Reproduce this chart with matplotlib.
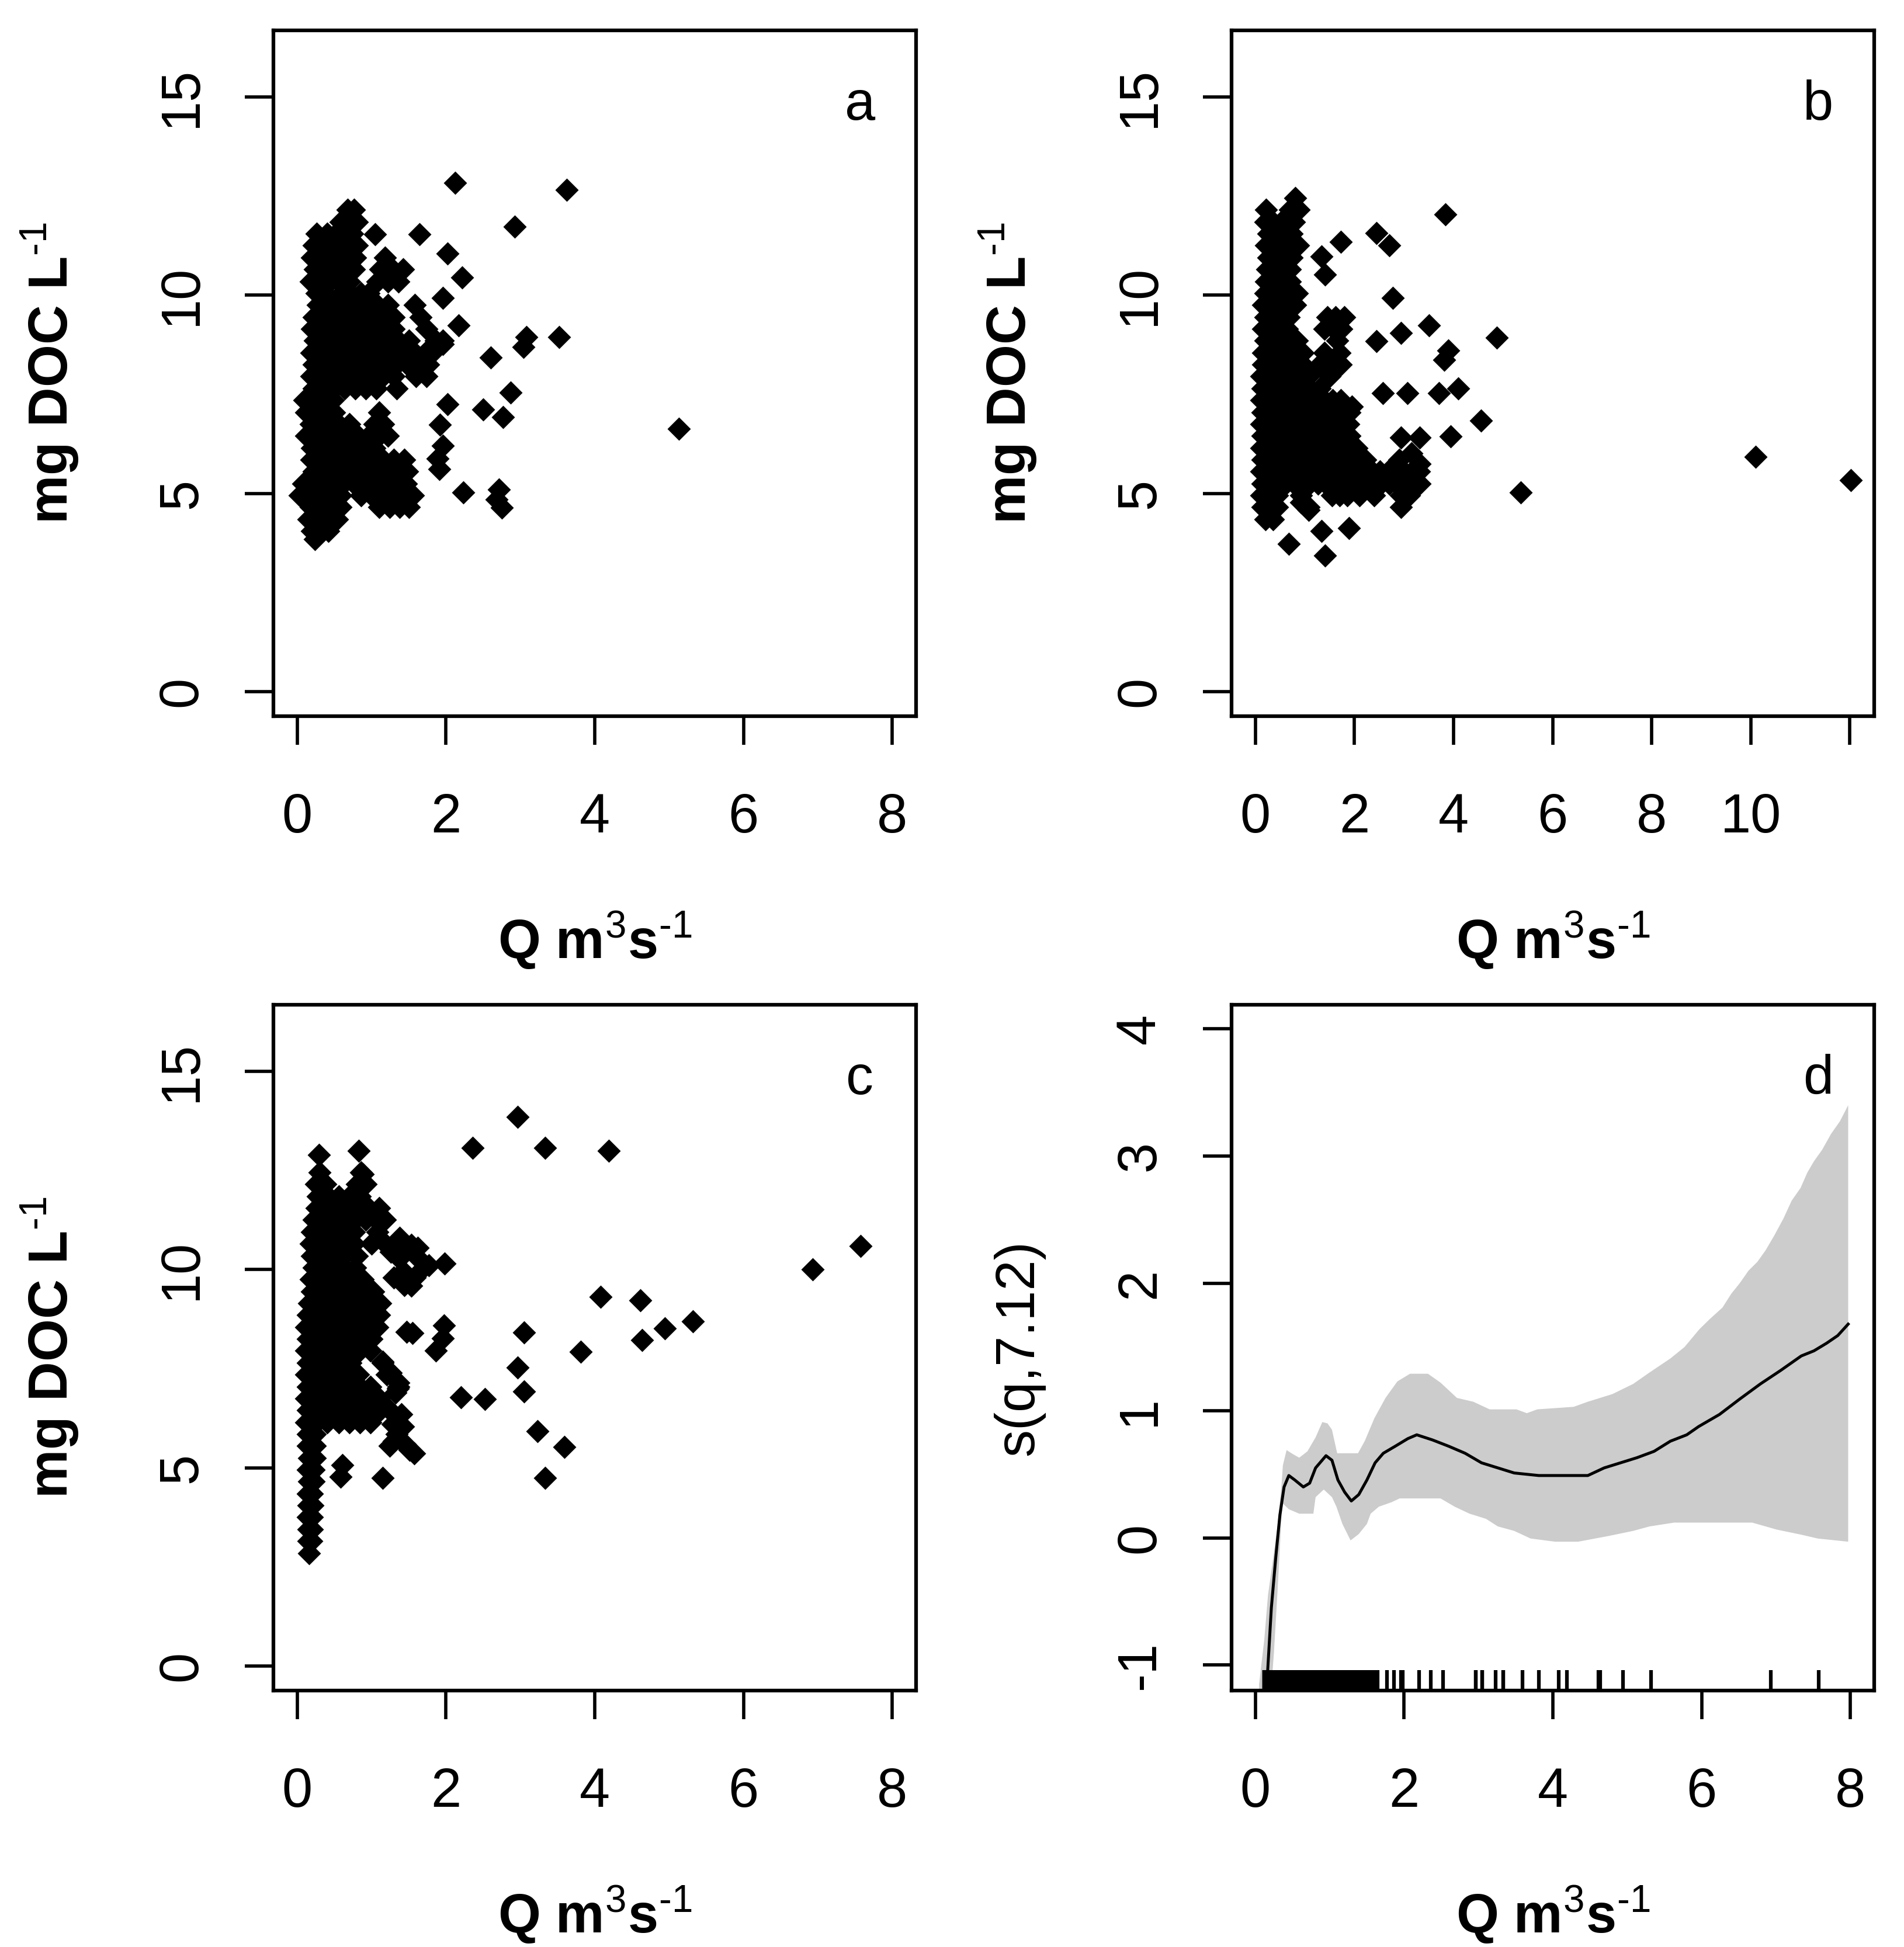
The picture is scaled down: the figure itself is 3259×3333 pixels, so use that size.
import numpy as np
import matplotlib
matplotlib.use("Agg")
import matplotlib.pyplot as plt

plt.rcParams['font.family'] = ['Liberation Sans', 'DejaVu Sans']
plt.rcParams['mathtext.fontset'] = 'custom'
plt.rcParams['mathtext.rm'] = 'Liberation Sans'
plt.rcParams['mathtext.it'] = 'Liberation Sans:italic'
plt.rcParams['mathtext.bf'] = 'Liberation Sans:bold'

# ---------------- data ----------------
# panel a: rows of (DOC, [Q values]) in the dense cloud, plus isolated points
a_rows = [
    (12.15, [0.68, 0.76]),
    (11.85, [0.58, 0.70, 0.80]),
    (11.55, [0.26, 0.40, 0.52, 0.64, 0.74]),
    (11.25, [0.22, 0.34, 0.48, 0.60, 0.72, 0.80]),
    (10.95, [0.20, 0.32, 0.45, 0.58, 0.70, 0.78, 1.18]),
    (10.65, [0.24, 0.38, 0.50, 0.62, 0.76, 1.12, 1.28, 1.42]),
    (10.35, [0.18, 0.30, 0.44, 0.56, 0.70, 1.08, 1.22, 1.36]),
    (10.05, [0.26, 0.38, 0.60, 0.72, 0.86, 0.96]),
    (9.75, [0.28, 0.40, 0.52, 0.66, 0.80, 0.94, 1.08, 1.22, 1.58]),
    (9.45, [0.22, 0.34, 0.48, 0.62, 0.76, 0.90, 1.04, 1.18, 1.30, 1.66]),
    (9.15, [0.20, 0.32, 0.46, 0.60, 0.74, 0.88, 1.02, 1.16, 1.30, 1.74]),
    (8.85, [0.24, 0.38, 0.52, 0.66, 0.80, 0.94, 1.08, 1.22, 1.36, 1.50, 1.86, 1.96]),
    (8.55, [0.19, 0.32, 0.46, 0.60, 0.74, 0.88, 1.02, 1.16, 1.30, 1.44, 1.58, 1.72, 1.82]),
    (8.25, [0.22, 0.36, 0.50, 0.64, 0.78, 0.92, 1.06, 1.20, 1.34, 1.48, 1.62, 1.76]),
    (7.95, [0.19, 0.32, 0.46, 0.60, 0.74, 0.88, 1.02, 1.16, 1.30, 1.60, 1.74]),
    (7.65, [0.22, 0.36, 0.50, 0.64, 0.78, 0.92, 1.06, 1.34]),
    (7.35, [0.10, 0.22, 0.36, 0.48]),
    (7.05, [0.12, 0.26, 0.40, 0.50, 1.10]),
    (6.75, [0.18, 0.30, 0.44, 0.56, 0.70, 1.04, 1.16]),
    (6.45, [0.12, 0.26, 0.40, 0.54, 0.68, 0.82, 0.96, 1.10, 1.22]),
    (6.15, [0.20, 0.34, 0.48, 0.62, 0.76, 0.90, 1.04]),
    (5.85, [0.19, 0.32, 0.46, 0.60, 0.74, 0.88, 1.02, 1.16, 1.30, 1.44]),
    (5.55, [0.22, 0.36, 0.50, 0.64, 0.78, 0.92, 1.06, 1.20, 1.34, 1.48]),
    (5.25, [0.08, 0.20, 0.34, 0.48, 0.62, 0.76, 0.90, 1.04, 1.18, 1.32, 1.46]),
    (4.95, [0.03, 0.16, 0.30, 0.44, 0.58, 0.86, 1.00, 1.14, 1.28, 1.42, 1.56]),
    (4.65, [0.18, 0.30, 0.44, 0.58, 1.10, 1.24, 1.38, 1.50]),
    (4.35, [0.15, 0.28, 0.42, 0.54]),
    (4.05, [0.20, 0.32, 0.42]),
    (3.85, [0.24]),
]
a_iso = [(2.12, 12.84), (3.62, 12.65), (2.92, 11.73), (1.05, 11.54), (1.64, 11.54),
         (2.02, 11.05), (2.22, 10.44), (1.96, 9.93), (2.17, 9.24), (1.96, 8.76),
         (3.08, 8.95), (3.04, 8.69), (3.52, 8.94), (2.60, 8.43), (2.87, 7.54),
         (2.02, 7.25), (1.92, 6.73), (2.50, 7.12), (2.77, 6.93), (5.13, 6.63),
         (1.96, 6.21), (1.89, 5.88), (1.91, 5.62), (2.23, 5.03), (2.71, 5.10),
         (2.75, 4.64), (2.68, 4.84)]

# panel b
b_rows = [
    (12.45, [0.80]),
    (12.15, [0.22, 0.70, 0.88]),
    (11.85, [0.20, 0.36, 0.52, 0.78]),
    (11.55, [0.26, 0.42, 0.58, 0.74]),
    (11.25, [0.22, 0.38, 0.54, 0.70, 0.86]),
    (10.95, [0.26, 0.42, 0.58, 0.74]),
    (10.65, [0.24, 0.40, 0.56, 0.70]),
    (10.35, [0.22, 0.38, 0.54, 0.70]),
    (10.05, [0.20, 0.36, 0.52, 0.68, 0.84]),
    (9.75, [0.16, 0.32, 0.48, 0.64, 0.80]),
    (9.45, [0.20, 0.36, 0.52, 0.68, 1.45, 1.62, 1.80]),
    (9.15, [0.16, 0.32, 0.48, 0.64, 1.40, 1.58, 1.74]),
    (8.85, [0.20, 0.36, 0.52, 0.68, 0.84, 1.66]),
    (8.55, [0.16, 0.32, 0.48, 0.64, 0.80, 0.96, 1.40, 1.70]),
    (8.25, [0.16, 0.32, 0.48, 0.64, 0.80, 0.96, 1.30, 1.56, 1.72]),
    (7.95, [0.12, 0.28, 0.44, 0.60, 0.76, 0.92, 1.08, 1.50]),
    (7.65, [0.14, 0.30, 0.46, 0.62, 0.78, 0.94, 1.10, 1.30]),
    (7.35, [0.12, 0.28, 0.44, 0.60, 0.76, 0.92, 1.08, 1.24, 1.40, 1.56, 1.72]),
    (7.05, [0.14, 0.30, 0.46, 0.62, 0.78, 0.94, 1.10, 1.26, 1.42, 1.58, 1.74, 1.90]),
    (6.75, [0.12, 0.28, 0.44, 0.60, 0.76, 0.92, 1.08, 1.24, 1.40, 1.56, 1.72, 1.88]),
    (6.45, [0.14, 0.30, 0.46, 0.62, 0.78, 0.94, 1.10, 1.26, 1.42, 1.58, 1.74, 1.90]),
    (6.15, [0.12, 0.28, 0.44, 0.60, 0.76, 0.92, 1.08, 1.24, 1.40, 1.56, 1.72, 1.88, 2.04]),
    (5.85, [0.14, 0.30, 0.46, 0.62, 0.78, 0.94, 1.10, 1.26, 1.42, 1.58, 1.74, 1.90,
            2.06, 2.22, 2.90]),
    (5.55, [0.12, 0.28, 0.44, 0.60, 0.76, 0.92, 1.08, 1.24, 1.40, 1.56, 1.72, 1.88,
            2.04, 2.20, 2.36, 2.52, 2.68, 2.84, 3.00, 3.16, 3.30]),
    (5.25, [0.14, 0.30, 0.46, 0.62, 0.78, 0.94, 1.10, 1.26, 1.42, 1.58, 1.74, 1.90,
            2.06, 2.22, 2.38, 2.54, 2.70, 2.86, 3.02, 3.18, 3.32]),
    (4.95, [0.12, 0.28, 0.44, 0.92, 1.55, 1.70, 1.86, 2.10, 2.40, 2.94, 3.10]),
    (4.65, [0.14, 0.30, 0.44, 1.08, 2.94]),
    (4.35, [0.20, 0.36]),
]
b_iso = [(3.83, 12.04), (2.45, 11.57), (2.70, 11.25), (1.73, 11.34), (1.33, 10.98),
         (1.41, 10.52), (2.78, 9.93), (3.51, 9.24), (2.94, 9.04), (2.45, 8.84),
         (4.87, 8.93), (3.90, 8.60), (3.81, 8.37), (2.57, 7.53), (3.07, 7.53),
         (3.71, 7.53), (4.10, 7.65), (1.95, 7.19), (4.56, 6.83), (3.94, 6.44),
         (2.94, 6.41), (3.32, 6.41), (3.15, 6.01), (3.32, 5.75), (10.10, 5.93),
         (12.02, 5.33), (5.36, 5.03), (1.33, 4.05), (1.89, 4.12), (0.67, 3.73),
         (1.41, 3.43), (0.92, 4.77), (1.08, 4.58)]

# panel c
c_rows = [
    (12.45, [0.30, 0.86]),
    (12.15, [0.25, 0.38, 0.80, 0.92]),
    (11.85, [0.28, 0.42, 0.56, 0.70, 0.84]),
    (11.55, [0.26, 0.40, 0.54, 0.68, 0.82, 0.96, 1.10]),
    (11.25, [0.22, 0.36, 0.50, 0.64, 0.78, 0.92, 1.06, 1.18]),
    (10.95, [0.20, 0.34, 0.48, 0.62, 0.76, 1.08]),
    (10.65, [0.18, 0.32, 0.46, 0.60, 0.76, 1.00, 1.18]),
    (10.35, [0.20, 0.34, 0.48, 0.62, 0.80]),
    (10.05, [0.22, 0.36, 0.50, 0.64, 0.78]),
    (9.75, [0.18, 0.32, 0.46, 0.60, 0.74, 0.88]),
    (9.45, [0.20, 0.34, 0.48, 0.62, 0.76, 0.90, 1.02]),
    (9.15, [0.16, 0.30, 0.44, 0.58, 0.72, 0.86, 1.00, 1.12]),
    (8.85, [0.14, 0.28, 0.42, 0.56, 0.70, 0.84, 0.98, 1.10]),
    (8.55, [0.12, 0.26, 0.40, 0.54, 0.68, 0.82, 0.96, 1.08]),
    (8.25, [0.14, 0.28, 0.42, 0.56, 0.70, 0.84, 1.00]),
    (7.95, [0.12, 0.26, 0.40, 0.54, 0.70, 0.84, 0.98]),
    (7.65, [0.14, 0.28, 0.42, 0.56, 0.72, 1.15]),
    (7.35, [0.12, 0.26, 0.40, 0.54, 0.68, 0.82, 1.20]),
    (7.05, [0.14, 0.28, 0.42, 0.56, 0.70, 0.84, 0.98, 1.36]),
    (6.75, [0.12, 0.26, 0.40, 0.54, 0.68, 0.82, 0.96, 1.10]),
    (6.45, [0.14, 0.28, 0.42, 0.56, 0.70, 0.84, 0.98, 1.12, 1.24]),
    (6.15, [0.12, 0.26, 0.40, 0.56, 0.70, 0.84, 0.98]),
    (5.85, [0.14, 0.24]),
    (5.55, [0.14, 0.24]),
    (5.25, [0.16, 0.24]),
    (4.95, [0.14, 0.22]),
    (4.65, [0.16, 0.22]),
    (4.35, [0.14, 0.20]),
    (4.05, [0.15, 0.21]),
    (3.75, [0.14, 0.20]),
    (3.45, [0.15, 0.20]),
    (3.15, [0.15, 0.19]),
    (2.85, [0.16]),
]
c_iso = [(2.96, 13.85), (2.36, 13.07), (3.33, 13.07), (4.19, 12.99), (0.83, 12.99),
         (0.29, 12.89), (7.57, 10.59), (6.93, 10.00), (4.08, 9.31), (4.61, 9.22),
         (5.32, 8.70), (4.94, 8.52), (4.64, 8.22), (3.81, 7.93), (3.05, 8.41),
         (2.96, 7.53), (3.05, 6.93), (2.20, 6.78), (2.52, 6.74), (3.23, 5.93),
         (3.59, 5.53), (3.33, 4.74), (1.47, 8.43), (1.97, 8.59), (1.96, 8.26),
         (1.86, 7.96), (1.53, 10.63), (1.36, 10.30), (1.42, 9.96), (1.53, 9.59),
         (1.77, 10.11), (1.98, 10.15), (1.15, 7.67), (1.36, 7.15), (0.61, 5.07),
         (0.58, 4.78), (1.15, 4.74), (1.42, 6.04), (1.30, 5.67), (1.57, 5.37),
         (0.88, 12.40), (1.26, 10.45), (1.30, 9.80), (1.46, 10.45), (1.49, 9.78),
         (1.60, 10.35), (1.64, 9.95), (1.26, 7.40), (1.32, 6.90), (1.40, 6.35),
         (1.34, 5.85), (1.45, 5.60), (1.51, 5.45), (1.55, 8.40), (1.38, 10.80),
         (1.62, 10.55), (1.28, 6.10), (1.44, 9.60), (1.58, 9.80), (1.24, 5.55),
         (1.35, 7.00)]

# panel d: GAM smooth s(q,7.12) and its confidence band
fit_q = [0.12, 0.16, 0.215, 0.275, 0.33, 0.386, 0.45, 0.53, 0.645, 0.73, 0.81, 0.95,
         1.03, 1.11, 1.20, 1.29, 1.39, 1.50, 1.61, 1.72, 1.88, 2.05, 2.17, 2.38, 2.60,
         2.82, 3.04, 3.26, 3.48, 3.81, 4.47, 4.69, 4.91, 5.13, 5.36, 5.58, 5.80, 5.96,
         6.24, 6.51, 6.79, 7.06, 7.34, 7.51, 7.68, 7.83, 7.97]
fit_s = [-1.75, -1.10, -0.55, -0.15, 0.18, 0.40, 0.49, 0.455, 0.40, 0.43, 0.55, 0.646,
         0.61, 0.455, 0.36, 0.29, 0.34, 0.455, 0.59, 0.665, 0.72, 0.78, 0.81, 0.77, 0.72,
         0.665, 0.59, 0.55, 0.51, 0.49, 0.49, 0.55, 0.59, 0.63, 0.68, 0.76, 0.81, 0.875,
         0.97, 1.09, 1.21, 1.315, 1.43, 1.47, 1.53, 1.59, 1.68]
up_q = [0.05, 0.12, 0.17, 0.23, 0.30, 0.35, 0.37, 0.42, 0.50, 0.59, 0.70, 0.81, 0.90,
        0.97, 1.03, 1.10, 1.38, 1.47, 1.60, 1.75, 1.91, 2.08, 2.32, 2.49, 2.71, 2.93,
        3.15, 3.51, 3.65, 3.79, 4.28, 4.47, 4.80, 5.08, 5.30, 5.58, 5.77, 5.97, 6.11,
        6.28, 6.40, 6.51, 6.63, 6.75, 6.86, 6.98, 7.10, 7.21, 7.33, 7.42, 7.51, 7.62,
        7.74, 7.86, 7.97]
up_s = [-1.15, -0.80, -0.45, -0.20, 0.10, 0.40, 0.57, 0.69, 0.66, 0.63, 0.68, 0.79,
        0.91, 0.90, 0.85, 0.665, 0.665, 0.76, 0.94, 1.10, 1.23, 1.29, 1.29, 1.22, 1.10,
        1.07, 1.01, 1.01, 0.98, 1.01, 1.03, 1.07, 1.13, 1.21, 1.30, 1.41, 1.50, 1.64,
        1.72, 1.81, 1.92, 2.00, 2.10, 2.17, 2.26, 2.38, 2.51, 2.65, 2.75, 2.87, 2.96,
        3.05, 3.175, 3.275, 3.40]
lo_q = [0.05, 0.16, 0.25, 0.30, 0.35, 0.37, 0.45, 0.59, 0.78, 0.81, 0.92, 1.03, 1.09,
        1.17, 1.28, 1.39, 1.50, 1.55, 1.66, 1.83, 1.94, 2.49, 2.68, 2.88, 3.10, 3.26,
        3.48, 3.70, 4.03, 4.34, 4.75, 5.08, 5.30, 5.63, 6.68, 7.01, 7.34, 7.56, 7.97]
lo_s = [-2.00, -1.60, -0.90, -0.40, 0.15, 0.27, 0.225, 0.19, 0.19, 0.32, 0.38, 0.32,
        0.245, 0.11, -0.02, 0.03, 0.11, 0.19, 0.245, 0.28, 0.31, 0.31, 0.245, 0.19, 0.15,
        0.09, 0.055, -0.005, -0.03, -0.03, 0.015, 0.055, 0.09, 0.12, 0.12, 0.065, 0.025,
        -0.005, -0.03]

ticks_q_ac = [0, 2, 4, 6, 8]
ticks_q_b = [0, 2, 4, 6, 8, 10, 12]
labels_q_b = ['0', '2', '4', '6', '8', '10', '']
ticks_doc = [0, 5, 10, 15]
ticks_s = [-1, 0, 1, 2, 3, 4]


def expand(rows, iso):
    q = [v for d, qs in rows for v in qs] + [p[0] for p in iso]
    d = [dd for dd, qs in rows for _ in qs] + [p[1] for p in iso]
    return np.array(q), np.array(d)


q_a, doc_a = expand(a_rows, a_iso)
q_b, doc_b = expand(b_rows, b_iso)
q_c, doc_c = expand(c_rows, c_iso)

# ---------------- figure ----------------
W, H = 3259, 3333
DPI = 300
FS = 22.5
fig = plt.figure(figsize=(W / DPI, H / DPI), dpi=DPI)
fig.patch.set_facecolor('white')

AW, AH = 1100, 1174


def add_ax(left_px, top_px):
    return fig.add_axes([left_px / W, 1 - (top_px + AH) / H, AW / W, AH / H])


ax_a = add_ax(468, 52)
ax_b = add_ax(2108, 52)
ax_c = add_ax(468, 1720)
ax_d = add_ax(2108, 1720)

diamond = [(0, 1), (1, 0), (0, -1), (-1, 0), (0, 1)]


def style(ax, xlim, ylim, xticks, xlabels, yticks):
    ax.set_xlim(*xlim)
    ax.set_ylim(*ylim)
    ax.set_xticks(xticks)
    ax.set_xticklabels(xlabels, fontsize=FS)
    ax.set_yticks(yticks)
    ax.set_yticklabels([str(t) for t in yticks], rotation=90, va='center', fontsize=FS)
    for s in ax.spines.values():
        s.set_linewidth(1.5)
        s.set_color('black')
    ax.tick_params(direction='out', length=11.8, width=1.35, color='black')
    ax.tick_params(axis='x', pad=19.5)
    ax.tick_params(axis='y', pad=15.0)


def scatter_panel(ax, q, d):
    ax.scatter(q, d, marker=diamond, s=92, c='black', linewidths=0, zorder=3)


xlim_ac = (-0.32, 8.32)
ylim_doc = (-0.62, 16.68)

scatter_panel(ax_a, q_a, doc_a)
style(ax_a, xlim_ac, ylim_doc, ticks_q_ac, [str(t) for t in ticks_q_ac], ticks_doc)

scatter_panel(ax_b, q_b, doc_b)
style(ax_b, (-0.48, 12.49), ylim_doc, ticks_q_b, labels_q_b, ticks_doc)

scatter_panel(ax_c, q_c, doc_c)
style(ax_c, xlim_ac, ylim_doc, ticks_q_ac, [str(t) for t in ticks_q_ac], ticks_doc)

# panel d
band_x = np.concatenate([np.array(up_q), np.array(lo_q)[::-1]])
band_y = np.concatenate([np.array(up_s), np.array(lo_s)[::-1]])
ax_d.fill(band_x, band_y, color='#cccccc', lw=0, zorder=1)
ax_d.plot(fit_q, fit_s, color='black', lw=1.2, zorder=2)
ax_d.vlines(q_c, 0, 0.03, transform=ax_d.get_xaxis_transform(), color='black',
            lw=1.5, zorder=3)
style(ax_d, xlim_ac, (-1.2, 4.19), ticks_q_ac, [str(t) for t in ticks_q_ac], ticks_s)

xlab = r'Q m$^{3}$s$^{\text{-}1}$'
ylab = r'mg DOC L$^{\text{-}1}$'
for ax in (ax_a, ax_b, ax_c, ax_d):
    ax.text(0.5, -0.3535, xlab, transform=ax.transAxes, ha='center', va='baseline',
            fontsize=FS, fontweight='bold')
for ax in (ax_a, ax_b, ax_c):
    ax.text(-0.32, 0.5, ylab, transform=ax.transAxes, rotation=90,
            rotation_mode='anchor', ha='center', va='baseline',
            fontsize=FS, fontweight='bold')
ax_d.text(-0.309, 0.5, 's(q,7.12)', transform=ax_d.transAxes, rotation=90,
          rotation_mode='anchor', ha='center', va='baseline', fontsize=FS)

for ax, letter in zip((ax_a, ax_b, ax_c, ax_d), 'abcd'):
    ax.text(0.9127, 0.8697, letter, transform=ax.transAxes, ha='center',
            va='baseline', fontsize=FS)

fig.savefig('out.png', dpi=DPI, facecolor='white')
